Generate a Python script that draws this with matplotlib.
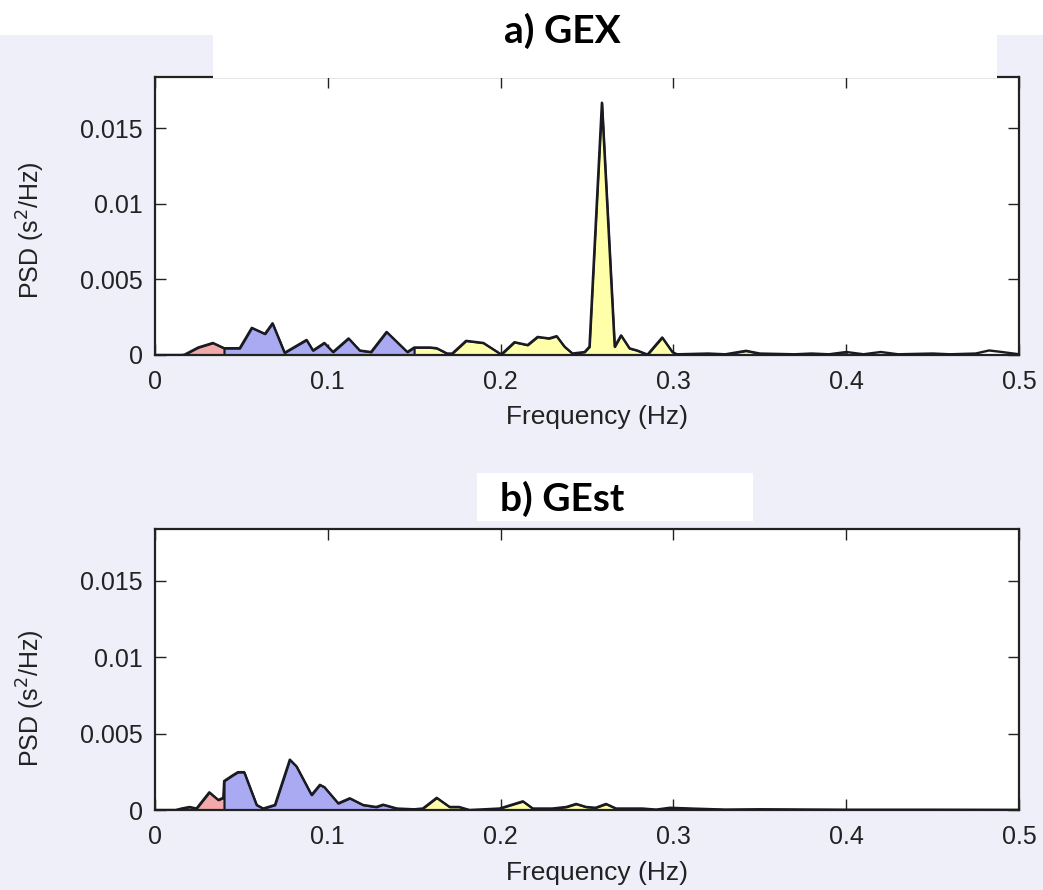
import matplotlib
matplotlib.use("Agg")
import matplotlib.pyplot as plt
from matplotlib.patches import Rectangle
import numpy as np

# ---- data ----
freq_a = [0.000, 0.015, 0.017, 0.025, 0.0335, 0.040, 0.049, 0.056, 0.0636, 0.068,
          0.075, 0.0877, 0.0914, 0.098, 0.103, 0.112, 0.1185, 0.125, 0.134, 0.146,
          0.150, 0.159, 0.163, 0.169, 0.172, 0.180, 0.190, 0.1995, 0.2005, 0.208,
          0.2156, 0.2214, 0.228, 0.2324, 0.237, 0.2416, 0.2486, 0.2514, 0.2586, 0.266,
          0.2697, 0.2746, 0.279, 0.285, 0.2935, 0.2994, 0.302, 0.320, 0.330, 0.342,
          0.350, 0.370, 0.380, 0.390, 0.400, 0.410, 0.420, 0.430, 0.450, 0.460,
          0.475, 0.4827, 0.490, 0.500]
psd_a = [0.0, 0.0, 0.00002, 0.0005, 0.0008, 0.00045, 0.00045, 0.0018, 0.0014, 0.0021,
         0.00015, 0.0010, 0.0003, 0.0008, 0.0002, 0.0011, 0.0003, 0.0002, 0.00153, 0.0002,
         0.0005, 0.0005, 0.00045, 0.0001, 0.0001, 0.00094, 0.0008, 0.0001, 0.00005, 0.00085,
         0.00066, 0.0012, 0.0011, 0.00125, 0.00055, 0.0001, 0.0002, 0.00055, 0.0167, 0.00055,
         0.0013, 0.00044, 0.0003, 0.00003, 0.00116, 0.0002, 0.00005, 0.0001, 0.00005, 0.00028,
         0.0001, 0.00005, 0.0001, 0.00005, 0.0002, 0.00005, 0.0002, 0.00005, 0.0001, 0.00005,
         0.0001, 0.0003, 0.0002, 0.00005]

freq_b = [0.000, 0.012, 0.0154, 0.020, 0.024, 0.0314, 0.0366, 0.0395, 0.040, 0.0453,
          0.048, 0.0516, 0.0588, 0.0626, 0.0694, 0.078, 0.0819, 0.0906, 0.0954, 0.098,
          0.106, 0.1127, 0.1204, 0.128, 0.132, 0.140, 0.150, 0.155, 0.163, 0.1705,
          0.176, 0.182, 0.1994, 0.2129, 0.2186, 0.230, 0.238, 0.2437, 0.2495, 0.255,
          0.261, 0.2668, 0.282, 0.290, 0.298, 0.310, 0.330, 0.350, 0.400, 0.450, 0.500]
psd_b = [0.0, 0.0, 0.0001, 0.0002, 0.0001, 0.00116, 0.00066, 0.0008, 0.0019, 0.0023,
         0.00248, 0.00248, 0.00033, 0.0001, 0.00033, 0.0033, 0.00285, 0.00099, 0.00165, 0.0015,
         0.00044, 0.00077, 0.00033, 0.0002, 0.00035, 0.0001, 0.00005, 0.0001, 0.0008, 0.0002,
         0.0002, 0.0, 0.0001, 0.00057, 0.0001, 0.0001, 0.0002, 0.0004, 0.0002, 0.00015,
         0.0004, 0.0001, 0.0001, 0.00003, 0.00015, 0.0001, 0.00003, 0.00005, 0.00002, 0.00002, 0.00001]

band_edges = [(0.0, 0.04), (0.04, 0.15), (0.15, 0.40)]
band_colors = ["#F2A9A9", "#AAAAF2", "#FFFFAA"]
titles = ["a) GEX", "b) GEst"]
xticks = [0, 0.1, 0.2, 0.3, 0.4, 0.5]
xticklabels = ["0", "0.1", "0.2", "0.3", "0.4", "0.5"]
yticks = [0, 0.005, 0.01, 0.015]
yticklabels = ["0", "0.005", "0.01", "0.015"]

W, H = 1043, 890
fig = plt.figure(figsize=(W / 100, H / 100), dpi=100)
fig.patch.set_facecolor("#EFEFF9")
plt.rcParams["font.family"] = ["Liberation Sans", "DejaVu Sans"]

def px(x0, y0, x1, y1):
    return [x0 / W, 1 - y1 / H, (x1 - x0) / W, (y1 - y0) / H]

# white backgrounds behind titles
fig.patches.append(Rectangle((0, 1 - 35 / H), 1, 35 / H, transform=fig.transFigure,
                             facecolor="white", edgecolor="none", zorder=0))
fig.patches.append(Rectangle((213 / W, 1 - 78 / H), (997 - 213) / W, 45 / H,
                             transform=fig.transFigure, facecolor="white",
                             edgecolor="none", zorder=0))
fig.patches.append(Rectangle((477 / W, 1 - 521 / H), (753 - 477) / W, 48 / H,
                             transform=fig.transFigure, facecolor="white",
                             edgecolor="none", zorder=0))

axes_px = [(155, 77, 1019, 355), (155, 529, 1019, 810)]
title_y = [31, 499]
xlabel_y = [417, 873]
ylabel_y = [230, 698]
datasets = [(freq_a, psd_a), (freq_b, psd_b)]

for i, (box, (f, p)) in enumerate(zip(axes_px, datasets)):
    ax = fig.add_axes(px(*box))
    ax.set_facecolor("white")
    f = np.asarray(f)
    p = np.asarray(p)
    for (lo, hi), c in zip(band_edges, band_colors):
        m = (f >= lo) & (f <= hi)
        ax.fill_between(f[m], 0, p[m], facecolor=c, edgecolor="#1A1A22",
                        linewidth=1.4, zorder=2)
    ax.plot(f, p, color="#1A1A22", linewidth=1.7, zorder=3)
    ax.set_xlim(0, 0.5)
    ax.set_ylim(0, 0.0184)
    ax.set_xticks(xticks)
    ax.set_xticklabels(xticklabels)
    ax.set_yticks(yticks)
    ax.set_yticklabels(yticklabels)
    ax.tick_params(direction="in", length=8, width=1.0, top=True, right=True,
                   labelsize=18, colors="#222222")
    ax.tick_params(axis="x", pad=11)
    ax.tick_params(axis="y", pad=9)
    for s in ax.spines.values():
        s.set_linewidth(1.6)
        s.set_color("#222222")
    h = box[3] - box[1]
    wax = box[2] - box[0]
    ax.set_xlabel("Frequency (Hz)", fontsize=19, color="#222222", va="center")
    ax.xaxis.set_label_coords((597 - box[0]) / wax, (box[3] - xlabel_y[i]) / h)
    ax.set_ylabel("PSD (s$^2$/Hz)", fontsize=18, color="#222222", va="center")
    ax.yaxis.set_label_coords((31 - box[0]) / wax, (box[3] - ylabel_y[i]) / h)
    fig.text(562 / W, 1 - title_y[i] / H, titles[i], ha="center", va="center",
             fontsize=28, fontweight="bold", family=["Lato", "DejaVu Sans"])

fig.savefig("out.png", dpi=100, facecolor=fig.get_facecolor())
